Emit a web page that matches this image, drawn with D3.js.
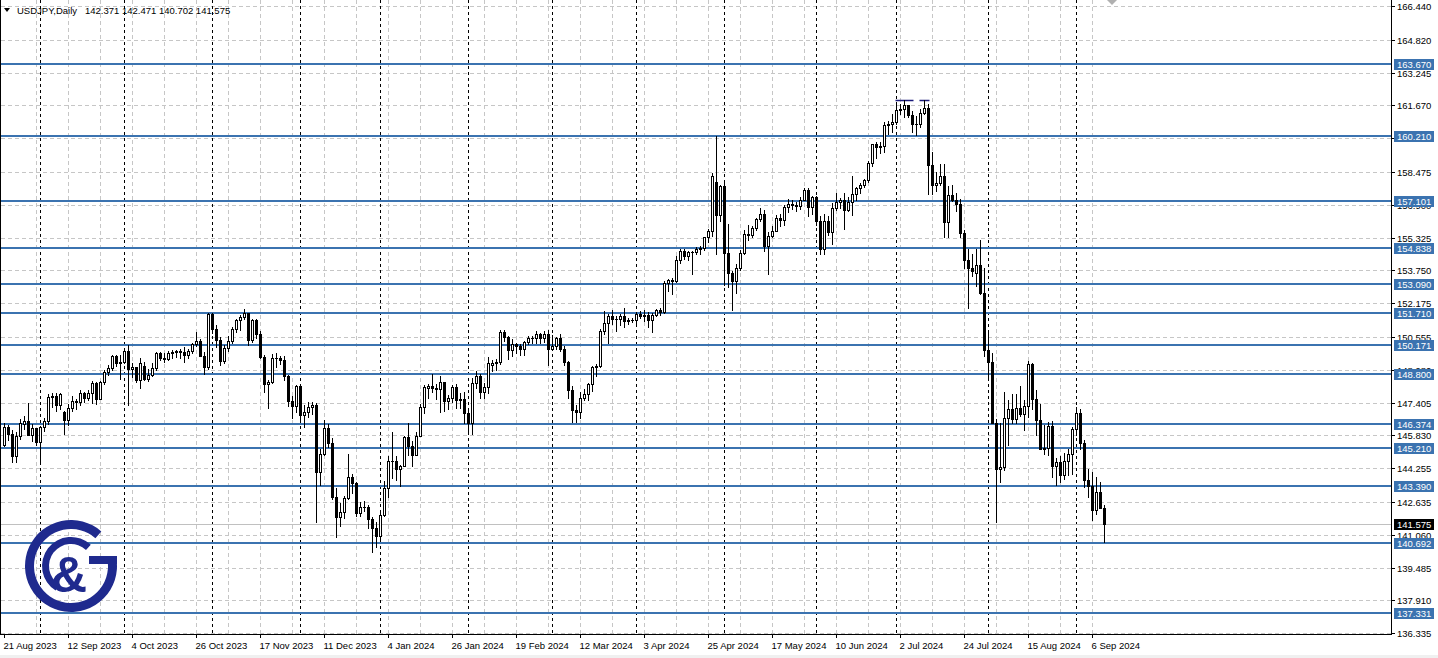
<!DOCTYPE html>
<html><head><meta charset="utf-8">
<script src="https://cdn.jsdelivr.net/npm/d3@7"></script>
<style>html,body{margin:0;padding:0;background:#fff;overflow:hidden}svg{display:block}text{font-family:"Liberation Sans",Arial,sans-serif}</style>
</head><body><svg id="c" width="1438" height="658"></svg>
<script>
const symbol = "USDJPY,Daily";
const dates = ["2023-08-21","2023-08-22","2023-08-23","2023-08-24","2023-08-25","2023-08-28","2023-08-29","2023-08-30","2023-08-31",
"2023-09-01","2023-09-04","2023-09-05","2023-09-06","2023-09-07","2023-09-08","2023-09-11","2023-09-12","2023-09-13","2023-09-14","2023-09-15","2023-09-18","2023-09-19","2023-09-20","2023-09-21","2023-09-22","2023-09-25","2023-09-26","2023-09-27","2023-09-28","2023-09-29",
"2023-10-02","2023-10-03","2023-10-04","2023-10-05","2023-10-06","2023-10-09","2023-10-10","2023-10-11","2023-10-12","2023-10-13","2023-10-16","2023-10-17","2023-10-18","2023-10-19","2023-10-20","2023-10-23","2023-10-24","2023-10-25","2023-10-26","2023-10-27","2023-10-30","2023-10-31",
"2023-11-01","2023-11-02","2023-11-03","2023-11-06","2023-11-07","2023-11-08","2023-11-09","2023-11-10","2023-11-13","2023-11-14","2023-11-15","2023-11-16","2023-11-17","2023-11-20","2023-11-21","2023-11-22","2023-11-23","2023-11-24","2023-11-27","2023-11-28","2023-11-29","2023-11-30",
"2023-12-01","2023-12-04","2023-12-05","2023-12-06","2023-12-07","2023-12-08","2023-12-11","2023-12-12","2023-12-13","2023-12-14","2023-12-15","2023-12-18","2023-12-19","2023-12-20","2023-12-21","2023-12-22","2023-12-26","2023-12-27","2023-12-28","2023-12-29",
"2024-01-02","2024-01-03","2024-01-04","2024-01-05","2024-01-08","2024-01-09","2024-01-10","2024-01-11","2024-01-12","2024-01-15","2024-01-16","2024-01-17","2024-01-18","2024-01-19","2024-01-22","2024-01-23","2024-01-24","2024-01-25","2024-01-26","2024-01-29","2024-01-30","2024-01-31",
"2024-02-01","2024-02-02","2024-02-05","2024-02-06","2024-02-07","2024-02-08","2024-02-09","2024-02-12","2024-02-13","2024-02-14","2024-02-15","2024-02-16","2024-02-19","2024-02-20","2024-02-21","2024-02-22","2024-02-23","2024-02-26","2024-02-27","2024-02-28","2024-02-29",
"2024-03-01","2024-03-04","2024-03-05","2024-03-06","2024-03-07","2024-03-08","2024-03-11","2024-03-12","2024-03-13","2024-03-14","2024-03-15","2024-03-18","2024-03-19","2024-03-20","2024-03-21","2024-03-22","2024-03-25","2024-03-26","2024-03-27","2024-03-28","2024-03-29",
"2024-04-01","2024-04-02","2024-04-03","2024-04-04","2024-04-05","2024-04-08","2024-04-09","2024-04-10","2024-04-11","2024-04-12","2024-04-15","2024-04-16","2024-04-17","2024-04-18","2024-04-19","2024-04-22","2024-04-23","2024-04-24","2024-04-25","2024-04-26","2024-04-29","2024-04-30",
"2024-05-01","2024-05-02","2024-05-03","2024-05-06","2024-05-07","2024-05-08","2024-05-09","2024-05-10","2024-05-13","2024-05-14","2024-05-15","2024-05-16","2024-05-17","2024-05-20","2024-05-21","2024-05-22","2024-05-23","2024-05-24","2024-05-27","2024-05-28","2024-05-29","2024-05-30","2024-05-31",
"2024-06-03","2024-06-04","2024-06-05","2024-06-06","2024-06-07","2024-06-10","2024-06-11","2024-06-12","2024-06-13","2024-06-14","2024-06-17","2024-06-18","2024-06-19","2024-06-20","2024-06-21","2024-06-24","2024-06-25","2024-06-26","2024-06-27","2024-06-28",
"2024-07-01","2024-07-02","2024-07-03","2024-07-04","2024-07-05","2024-07-08","2024-07-09","2024-07-10","2024-07-11","2024-07-12","2024-07-15","2024-07-16","2024-07-17","2024-07-18","2024-07-19","2024-07-22","2024-07-23","2024-07-24","2024-07-25","2024-07-26","2024-07-29","2024-07-30","2024-07-31",
"2024-08-01","2024-08-02","2024-08-05","2024-08-06","2024-08-07","2024-08-08","2024-08-09","2024-08-12","2024-08-13","2024-08-14","2024-08-15","2024-08-16","2024-08-19","2024-08-20","2024-08-21","2024-08-22","2024-08-23","2024-08-26","2024-08-27","2024-08-28","2024-08-29","2024-08-30",
"2024-09-02","2024-09-03","2024-09-04","2024-09-05","2024-09-06","2024-09-09","2024-09-10","2024-09-11"];

const open = [145.38,146.22,145.88,144.84,145.82,146.40,146.51,145.86,146.18,
145.53,146.23,146.50,147.68,147.70,147.28,146.95,146.56,147.13,147.46,147.45,147.86,147.61,147.87,148.35,147.58,148.38,148.86,149.05,149.62,149.33,
149.36,149.86,149.02,149.11,148.51,149.15,148.53,148.75,149.08,149.80,149.57,149.52,149.78,149.83,149.87,149.85,149.70,149.89,150.23,150.37,149.62,149.13,
151.68,150.95,150.43,149.38,150.03,150.38,150.95,151.35,151.52,151.70,150.41,151.37,150.72,149.61,148.30,148.38,149.55,149.55,149.45,148.68,147.50,147.25,
148.20,146.80,146.95,147.18,147.30,144.10,144.95,146.18,145.45,142.90,141.93,142.18,142.85,143.86,143.56,142.13,142.40,142.42,141.80,141.40,
141.02,142.00,143.30,144.60,144.62,144.20,144.38,145.75,145.30,144.90,145.80,147.19,148.10,148.18,148.12,148.08,148.38,147.48,147.63,148.15,147.55,147.60,
146.90,146.44,148.37,148.69,147.90,148.15,149.22,149.32,149.35,150.80,150.55,149.95,150.20,150.14,149.99,150.30,150.50,150.52,150.70,150.50,150.68,
149.98,150.10,150.50,150.00,149.35,148.00,147.05,146.95,147.65,147.80,148.32,149.10,149.15,150.85,151.25,151.55,151.42,151.40,151.55,151.30,151.35,
151.35,151.65,151.57,151.62,151.35,151.62,151.85,151.75,153.15,153.30,153.25,154.25,154.70,154.42,154.62,154.63,154.80,154.82,155.35,155.62,158.00,156.40,
157.78,154.60,153.65,153.25,153.85,154.60,155.52,155.45,155.78,156.20,156.45,154.90,155.38,155.65,156.25,156.18,156.78,156.95,156.90,156.85,157.15,157.62,156.80,
157.28,156.10,154.80,156.10,155.60,156.75,157.05,157.15,156.65,157.05,157.40,157.70,157.85,158.10,158.90,159.80,159.65,159.70,160.75,160.79,
160.85,161.45,161.48,161.68,161.20,160.76,160.80,161.30,161.55,158.80,157.85,157.95,158.30,156.05,157.37,157.13,156.96,155.55,154.25,153.85,153.64,154.00,152.65,
149.95,149.35,146.45,144.20,144.30,146.65,147.10,146.60,147.15,146.85,147.25,149.25,147.60,146.56,145.20,145.25,146.30,144.35,144.55,143.95,144.60,144.95,
146.15,146.90,145.45,143.70,143.40,142.25,143.10,142.371];

const high = [146.41,146.33,146.10,146.00,146.64,146.76,147.37,146.36,146.19,
146.30,146.68,147.81,147.87,147.87,147.88,147.00,147.32,147.74,147.60,148.00,147.93,148.00,148.46,148.38,148.46,148.97,149.20,149.71,149.71,149.70,
149.91,150.16,149.31,149.13,149.53,149.35,149.00,149.30,149.83,149.83,149.77,149.88,149.92,149.93,149.98,150.09,149.97,150.29,150.78,150.45,149.85,151.72,
151.72,151.15,150.55,150.18,150.62,151.02,151.43,151.59,151.91,151.73,151.43,151.40,150.85,149.70,148.48,149.76,149.77,149.64,149.65,148.75,147.74,148.25,
148.30,147.29,147.42,147.42,147.40,145.20,146.59,146.40,145.71,143.30,142.58,142.91,144.96,143.99,143.62,142.65,142.70,142.50,141.90,141.70,
142.27,143.65,144.84,145.98,144.86,144.40,145.81,146.41,145.55,145.98,147.32,148.25,148.32,148.80,148.28,148.70,148.40,147.77,148.25,148.28,147.87,147.90,
147.03,148.58,148.90,148.80,148.35,149.58,149.45,149.48,150.89,150.88,150.59,150.46,150.28,150.24,150.38,150.61,150.62,150.82,150.73,150.84,150.90,
150.66,150.55,150.70,150.10,149.42,148.22,147.30,147.90,148.05,148.35,149.15,149.28,150.95,151.82,151.65,151.86,151.55,151.65,151.97,151.45,151.48,
151.77,151.78,151.85,151.74,151.72,151.90,151.95,153.24,153.32,153.40,154.45,154.77,154.78,154.70,154.68,154.86,154.92,155.37,155.75,158.44,160.21,157.83,
157.99,155.99,153.70,154.04,154.75,155.67,155.95,155.88,156.27,156.75,156.65,155.58,155.90,156.42,156.48,156.90,157.17,157.15,157.02,157.25,157.71,157.70,157.30,
157.32,156.36,156.45,156.36,157.00,157.46,157.22,157.45,157.25,158.26,157.75,157.96,158.13,158.99,159.82,159.90,159.92,160.87,160.90,161.28,
161.73,161.74,161.95,161.70,161.38,161.16,161.49,161.95,161.76,159.45,158.48,158.85,158.86,157.78,157.87,157.46,157.20,155.70,154.80,154.55,154.80,155.22,153.88,
150.86,149.77,146.60,146.45,147.90,147.54,147.81,147.84,148.22,147.55,149.39,149.30,148.00,147.35,146.35,146.48,146.50,144.75,144.85,145.00,145.20,146.24,
147.20,147.10,145.60,144.20,144.10,143.83,143.60,142.471];

const low = [145.33,145.61,144.54,144.55,145.66,146.13,145.88,145.55,145.35,
144.44,146.03,146.39,147.18,146.98,147.11,145.91,146.33,146.99,147.08,147.30,147.42,147.52,147.38,147.33,147.56,148.31,148.71,148.95,149.18,148.52,
149.30,147.30,148.64,148.38,148.13,148.50,148.44,148.70,148.95,149.46,149.34,149.43,149.54,149.58,149.55,149.34,149.55,149.78,150.12,149.62,148.80,149.00,
150.73,150.07,149.20,149.32,149.88,150.25,150.78,150.88,151.42,150.15,150.31,150.49,149.54,147.90,147.15,148.35,149.12,149.27,148.50,147.23,146.67,146.95,
146.63,146.25,146.72,146.88,141.70,143.45,144.90,145.28,142.78,140.95,141.48,141.89,142.78,143.08,141.95,141.97,142.20,141.40,140.25,140.50,
140.82,141.96,142.90,143.80,143.67,143.42,144.35,144.88,144.35,144.88,145.78,146.90,147.65,147.93,147.56,146.97,146.98,147.10,147.45,147.15,147.15,146.45,
145.90,145.90,148.10,147.63,147.61,147.85,148.92,148.98,149.25,150.35,149.51,149.63,149.80,149.67,149.70,150.20,150.25,150.29,150.27,150.30,149.20,
149.93,149.98,149.90,149.22,147.62,146.48,146.48,146.65,147.54,147.55,147.95,148.70,149.10,150.70,150.27,151.20,150.82,151.15,151.03,151.20,151.28,
151.25,151.45,151.30,151.04,150.81,151.55,151.60,151.70,152.76,152.60,153.20,154.12,154.30,154.23,153.60,154.55,154.56,154.73,155.10,155.40,154.54,156.10,
153.04,152.97,151.86,152.66,153.78,154.55,155.19,155.37,155.67,156.10,154.70,153.60,155.35,155.62,155.86,155.95,156.53,156.70,156.62,156.70,157.11,156.38,156.46,
155.95,154.56,154.55,155.45,155.03,156.63,156.76,155.72,156.60,156.40,157.15,157.45,157.73,157.97,158.75,159.15,159.40,159.45,160.30,160.38,
160.80,161.25,161.13,161.10,160.40,160.25,160.65,161.25,157.40,157.40,157.54,157.85,155.37,155.37,157.10,156.60,155.35,153.85,151.94,153.46,153.00,152.60,149.65,
148.51,146.43,141.68,143.62,144.15,145.38,146.45,146.42,146.77,146.10,146.72,147.10,145.86,145.20,144.95,144.90,143.84,143.45,143.60,143.75,143.94,144.00,
145.85,145.20,143.38,142.88,141.76,142.05,142.35,140.702];

const close = [146.22,145.88,144.85,145.82,146.42,146.51,145.87,146.18,145.53,
146.22,146.50,147.68,147.70,147.28,147.83,146.56,147.13,147.46,147.45,147.86,147.61,147.87,148.35,147.58,148.38,148.86,149.05,149.62,149.33,149.36,
149.86,149.02,149.11,148.51,149.31,148.53,148.75,149.08,149.80,149.57,149.52,149.78,149.83,149.87,149.85,149.70,149.89,150.23,150.37,149.62,149.13,151.68,
150.95,150.43,149.38,150.03,150.38,150.95,151.35,151.52,151.70,150.41,151.37,150.72,149.61,148.30,148.38,149.55,149.55,149.45,148.68,147.50,147.25,148.20,
146.80,146.95,147.18,147.30,144.10,144.95,146.18,145.45,142.90,141.93,142.18,142.85,143.86,143.56,142.13,142.40,142.42,141.80,141.40,141.02,
142.00,143.30,144.60,144.62,144.20,144.38,145.75,145.30,144.90,145.80,147.19,148.15,148.18,148.12,148.08,148.38,147.48,147.63,148.15,147.55,147.60,146.90,
146.44,148.37,148.69,147.90,148.15,149.30,149.32,149.35,150.80,150.55,149.95,150.20,150.14,149.99,150.30,150.50,150.52,150.70,150.50,150.68,149.98,
150.10,150.50,150.00,149.35,148.00,147.05,146.95,147.65,147.80,148.32,149.10,149.15,150.85,151.25,151.55,151.42,151.40,151.55,151.30,151.35,151.35,
151.65,151.57,151.62,151.35,151.62,151.85,151.75,153.15,153.30,153.25,154.25,154.70,154.42,154.62,154.63,154.80,154.82,155.35,155.62,158.30,156.40,157.78,
154.60,153.65,153.25,153.85,154.60,155.52,155.45,155.78,156.20,156.45,154.90,155.38,155.65,156.25,156.18,156.78,156.95,156.90,156.85,157.15,157.62,156.80,157.28,
156.10,154.80,156.10,155.60,156.75,157.05,157.15,156.65,157.05,157.40,157.70,157.85,158.10,158.90,159.80,159.65,159.70,160.75,160.79,160.85,
161.45,161.48,161.68,161.20,160.76,160.80,161.30,161.55,158.80,157.85,157.95,158.30,156.05,157.37,157.13,156.96,155.55,154.25,153.85,153.73,154.00,152.65,149.95,
149.35,146.45,144.20,144.30,146.65,147.10,146.60,147.15,146.85,147.25,149.25,147.60,146.56,145.20,145.25,146.30,144.35,144.55,143.95,144.60,144.95,146.15,
146.90,145.45,143.70,143.40,142.25,143.10,142.371,141.575];

const priceTicks = [166.440,164.820,163.245,161.670,160.095,158.475,156.900,155.325,153.750,152.175,150.555,148.980,147.405,145.830,144.255,142.635,141.060,139.485,137.910,136.335];
const levels = [163.670,160.210,157.101,154.838,153.090,151.710,150.171,148.800,146.374,145.210,143.390,140.692,137.331];
const dateTicks = ["2023-08-21","2023-09-12","2023-10-04","2023-10-26","2023-11-17","2023-12-11","2024-01-04","2024-01-26","2024-02-19","2024-03-12","2024-04-03","2024-04-25","2024-05-17","2024-06-10","2024-07-02","2024-07-24","2024-08-15","2024-09-06"];
const highMarkFrom = ["2024-07-01","2024-07-09"];
const highMarkTo = ["2024-07-05","2024-07-11"];
const highMarkPrice = [161.95,161.95];

const W = 1438, H = 658, PR = 1391, PB = 634;
const svg = d3.select("#c");
svg.append("rect").attr("width",W).attr("height",H).attr("fill","#fff");
svg.append("rect").attr("x",0).attr("y",655).attr("width",W).attr("height",3).attr("fill","#f0f0f0");

const x = d3.scalePoint().domain(dates).range([4.5, 1104.5]);
const y = d3.scaleLinear().domain([136.335,166.44]).range([633.3,6]);
const Y = p => Math.round(y(p));

const grid = svg.append("g");
// horizontal grid
grid.selectAll("line.h").data(priceTicks).join("line")
  .attr("x1",1).attr("x2",PR).attr("y1",d=>Y(d)+0.5).attr("y2",d=>Y(d)+0.5)
  .attr("stroke","#c6c6c6").attr("stroke-dasharray","4,3");
// vertical grid every 8 bars
grid.selectAll("line.v").data(dates.filter((d,i)=>i>0 && i%8===0)).join("line")
  .attr("x1",d=>x(d)).attr("x2",d=>x(d)).attr("y1",0).attr("y2",PB)
  .attr("stroke","#c6c6c6").attr("stroke-dasharray","4,3");
// month separators
const seps = dates.filter((d,i)=>i>0 && d.slice(0,7)!==dates[i-1].slice(0,7));
grid.selectAll("line.s").data(seps).join("line")
  .attr("x1",d=>x(d)).attr("x2",d=>x(d)).attr("y1",0).attr("y2",PB)
  .attr("stroke","#000").attr("stroke-dasharray","3,3");

// current price line
const last = dates.length-1;
svg.append("line").attr("x1",1).attr("x2",PR).attr("y1",Y(close[last])+0.5).attr("y2",Y(close[last])+0.5).attr("stroke","#c0c0c0");

// level lines
svg.append("g").selectAll("line").data(levels).join("line")
  .attr("x1",1).attr("x2",PR).attr("y1",d=>Y(d)).attr("y2",d=>Y(d))
  .attr("stroke","#3b73b0").attr("stroke-width",2);

// high marks
svg.append("g").selectAll("line").data(highMarkPrice).join("line")
  .attr("x1",(d,i)=>x(highMarkFrom[i])-1).attr("x2",(d,i)=>x(highMarkTo[i])+1)
  .attr("y1",d=>Y(d)+0.5).attr("y2",d=>Y(d)+0.5)
  .attr("stroke","#1a1a7a").attr("stroke-width",1.5);

// candles
const cg = svg.append("g");
dates.forEach((d,i)=>{
  const cx = x(d);
  const yh = Y(high[i]), yl = Y(low[i]);
  cg.append("rect").attr("x",cx-0.5).attr("y",yh).attr("width",1).attr("height",Math.max(1,yl-yh+1)).attr("fill","#000");
  if (close[i] >= open[i]) {
    const t = Y(close[i]), b = Y(open[i]);
    cg.append("rect").attr("x",cx-1).attr("y",t+0.5).attr("width",2).attr("height",Math.max(0.01,b-t))
      .attr("fill","#fff").attr("stroke","#000").attr("stroke-width",1);
  } else {
    const t = Y(open[i]), b = Y(close[i]);
    cg.append("rect").attr("x",cx-1.5).attr("y",t).attr("width",3).attr("height",Math.max(1,b-t+1)).attr("fill","#000");
  }
});

// axes lines
svg.append("line").attr("x1",PR+0.5).attr("x2",PR+0.5).attr("y1",0).attr("y2",PB+1).attr("stroke","#000");
svg.append("line").attr("x1",0).attr("x2",PR+1).attr("y1",PB+0.5).attr("y2",PB+0.5).attr("stroke","#000");
svg.append("line").attr("x1",0.5).attr("x2",0.5).attr("y1",0).attr("y2",PB).attr("stroke","#000");

// price ticks & labels
const ax = svg.append("g").attr("font-size","9.5px");
ax.selectAll("line").data(priceTicks).join("line")
  .attr("x1",PR).attr("x2",PR+4).attr("y1",d=>Y(d)+0.5).attr("y2",d=>Y(d)+0.5).attr("stroke","#000");
ax.selectAll("text").data(priceTicks).join("text")
  .attr("x",1397).attr("y",d=>Y(d)+0.5).attr("dy","0.35em").attr("fill","#000").text(d=>d.toFixed(3));

// level labels
const lg = svg.append("g").attr("font-size","9.5px");
levels.forEach(p=>{
  lg.append("rect").attr("x",1394).attr("y",Y(p)-5).attr("width",40).attr("height",11).attr("fill","#3b73b0");
  lg.append("text").attr("x",1397).attr("y",Y(p)+0.5).attr("dy","0.35em").attr("fill","#fff").text(p.toFixed(3));
});
lg.append("rect").attr("x",1394).attr("y",Y(close[last])-5).attr("width",40).attr("height",11).attr("fill","#000");
lg.append("text").attr("x",1397).attr("y",Y(close[last])+0.5).attr("dy","0.35em").attr("fill","#fff").text(close[last].toFixed(3));

// date labels
const parse = d3.timeParse("%Y-%m-%d"), fmt = d3.timeFormat("%-d %b %Y");
const dg = svg.append("g").attr("font-size","9.5px");
dg.selectAll("line").data(dateTicks).join("line")
  .attr("x1",d=>x(d)).attr("x2",d=>x(d)).attr("y1",PB).attr("y2",PB+4).attr("stroke","#000");
dg.selectAll("text").data(dateTicks).join("text")
  .attr("x",d=>x(d)-1).attr("y",649).attr("fill","#000").text(d=>fmt(parse(d)));

// header
svg.append("path").attr("d","M4,8 L10,8 L7,12 Z").attr("fill","#000");
svg.append("text").attr("x",17).attr("y",14).attr("font-size","9.5px").attr("fill","#000")
  .style("white-space","pre")
  .text(symbol + "   " + [open[last],high[last],low[last],close[last]].map(v=>v.toFixed(3)).join(" "));

// chart shift marker
svg.append("path").attr("d","M1107,0 L1117,0 L1112,5 Z").attr("fill","#b0b0b0");

// logo
const logo = svg.append("g").attr("transform","translate(71,566)").attr("fill","#1f2a8e");
const arc = d3.arc();
logo.append("path").attr("d",arc({innerRadius:37,outerRadius:46,startAngle:1.42,endAngle:2*Math.PI+0.72}));
logo.append("path").attr("d",arc({innerRadius:22,outerRadius:29,startAngle:3.7,endAngle:2*Math.PI+0.75}));
logo.append("rect").attr("x",18).attr("y",-10).attr("width",28).attr("height",8);
logo.append("text").attr("x",-2).attr("y",26).attr("text-anchor","middle").attr("font-size","50px").attr("font-weight","bold")
  .attr("font-family","DejaVu Sans").text("&");
</script></body></html>
